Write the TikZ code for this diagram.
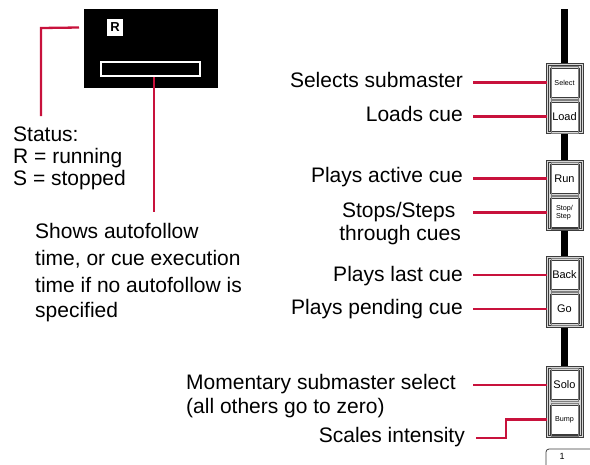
\documentclass[tikz,border=0pt]{standalone}
\usepackage{fontspec}
\setmainfont{Liberation Sans}
\definecolor{cuered}{RGB}{200,18,60}
\definecolor{framedark}{RGB}{60,60,60}
\definecolor{framelight}{RGB}{215,215,215}
\begin{document}
\begin{tikzpicture}[x=1pt,y=-1pt,
  lbl/.style={inner sep=0pt,font=\fontsize{21}{23}\selectfont},
  redline/.style={draw=cuered,line width=2.3pt},
  grp/.style={draw=framedark,fill=framelight,line width=1pt},
  btn/.style={draw=framedark,fill=white,line width=1pt,minimum width=29pt,minimum height=29pt,inner sep=0pt},
  btnbig/.style={btn,font=\fontsize{11}{12}\selectfont},
  btnsmall/.style={btn,font=\fontsize{7.2}{8.5}\selectfont}
]
\useasboundingbox (0,0) rectangle (590,464);

% display
\node[draw=none,fill=black,minimum width=134pt,minimum height=79pt,inner sep=0pt,anchor=north west] (disp) at (84,9) {};
\node[fill=white,minimum width=16pt,minimum height=17pt,inner sep=0pt,font=\fontsize{13}{13}\selectfont\bfseries] (rbox) at (115,27.5) {R};
\node[draw=white,line width=2pt,fill=black,minimum width=99pt,minimum height=14pt,inner sep=0pt] (tbar) at (150.5,69) {};

% status text
\node[lbl,anchor=base west] (st1) at (13,141) {Status:};
\node[lbl,anchor=base west] (st2) at (13,163) {R = running};
\node[lbl,anchor=base west] (st3) at (13,185) {S = stopped};
\coordinate (stTop) at (41,116);
\coordinate (stCorner) at (41,28);
\draw[redline] ([xshift=-5pt]disp.west |- rbox.center) -- (stCorner) -- (stTop);

% autofollow text
\node[lbl,anchor=base west] (af1) at (35,238) {Shows autofollow};
\node[lbl,anchor=base west] (af2) at (35,265) {time, or cue execution};
\node[lbl,anchor=base west] (af3) at (35,292) {time if no autofollow is};
\node[lbl,anchor=base west] (af4) at (35,317) {specified};
\coordinate (afTop) at (154,212);
\draw[redline] (tbar.south -| afTop) -- (afTop);

% vertical bar
\fill[black] (561,9) rectangle (568,366);

% groups
\draw[grp] (546,63) rectangle (583,133);
\draw[grp] (546,160) rectangle (583,230);
\draw[grp] (546,256) rectangle (583,327);
\draw[grp] (546,366) rectangle (583,437);
\foreach \a/\b in {63/133,160/230,256/327,366/437}
  \draw[framedark,line width=0.6pt] (548.2,\a+2.2) rectangle (580.8,\b-2.2);

% buttons
\node[btnsmall] (sel) at (564.5,82.5) {Select};
\node[btnbig] (load) at (564.5,116.5) {Load};
\node[btnbig] (run) at (564.5,178.5) {Run};
\node[btnsmall,align=left] (stop) at (564.5,212.5) {Stop/\\Step};
\node[btnbig] (back) at (564.5,275) {Back};
\node[btnbig] (go) at (564.5,309) {Go};
\node[btnbig] (solo) at (564.5,385) {Solo};
\node[btnsmall] (bump) at (564.5,419.5) {Bump};
\foreach \n in {sel,load,run,stop,back,go,solo,bump}
  \draw[gray,line width=0.5pt] ([shift={(1.7pt,-1.7pt)}]\n.south west) rectangle ([shift={(-1.7pt,1.7pt)}]\n.north east);

% tab
\draw[framedark,line width=0.8pt,rounded corners=3pt] (592,449) -- (546,449) -- (546,466);
\node[inner sep=0pt,font=\fontsize{9}{9}\selectfont] (tab) at (562,456.5) {1};

% right labels
\node[lbl,anchor=base east] (lsel) at (463,87) {Selects submaster};
\node[lbl,anchor=base east] (lload) at (463,121) {Loads cue};
\node[lbl,anchor=base east] (lrun) at (463,182) {Plays active cue};
\node[lbl,anchor=base east] (lstop) at (455.5,217) {Stops/Steps};
\node[lbl,anchor=base east] (lstop2) at (461,240) {through cues};
\node[lbl,anchor=base east] (lback) at (463,281) {Plays last cue};
\node[lbl,anchor=base east] (lgo) at (463,314) {Plays pending cue};
\node[lbl,anchor=base west] (lsolo) at (186,389) {Momentary submaster select};
\node[lbl,anchor=base west] (lsolo2) at (186,413) {(all others go to zero)};
\node[lbl,anchor=base east] (lbump) at (465,442) {Scales intensity};

\coordinate (gx) at (547,0);
\coordinate (lx) at (473,0);
\foreach \n in {sel,load,run,stop,back,go,solo}
  \draw[redline] (lx |- \n.west) -- (\n.west -| gx);
\coordinate (bumpstart) at (476,438);
\coordinate (bumpbend) at (506,438);
\draw[redline] (bumpstart) -- (bumpbend) -- (bumpbend |- bump.west) -- (bump.west -| gx);
\end{tikzpicture}
\end{document}
